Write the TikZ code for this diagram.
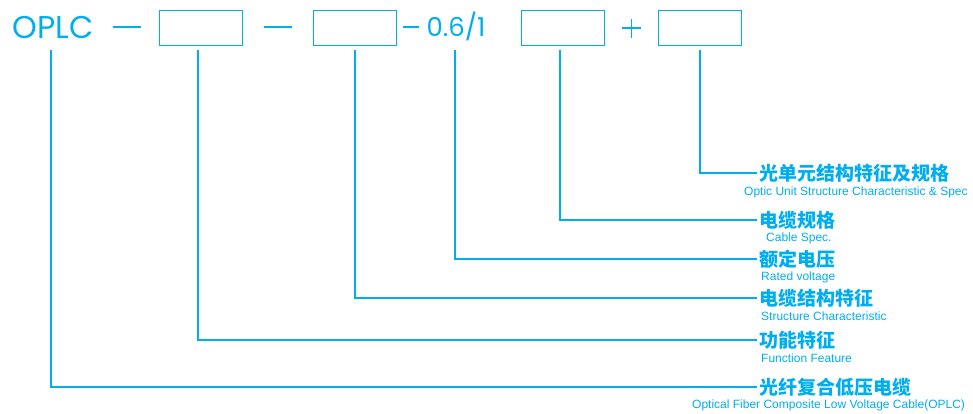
\documentclass[tikz,border=0pt]{standalone}
\usepackage{fontspec}
\newfontfamily\cjk{Noto Sans CJK SC}
\newfontfamily\geo{Poppins}
\newfontfamily\en{Liberation Sans}
\definecolor{cy}{RGB}{0,174,239}
\begin{document}
\begin{tikzpicture}[x=1pt,y=-1pt,
  ln/.style={draw=cy,line width=1.2pt},
  codebox/.style={draw=cy,line width=1.4pt,minimum width=83pt,minimum height=35pt,inner sep=0pt},
  big/.style={text=cy,inner sep=0pt,font=\geo\fontsize{31.5}{31.5}\selectfont},
  zh/.style={text=cy,anchor=west,inner xsep=2pt,inner ysep=0pt,font=\cjk\bfseries\fontsize{19}{19}\selectfont},
  enl/.style={text=cy,anchor=base west,inner sep=0pt,font=\en\fontsize{12}{12}\selectfont}]
\useasboundingbox (0,0) rectangle (973,413);
\coordinate (t) at (0,50);
% top row
\node[big,anchor=base] (oplc) at (53,38) {OPLC};
\draw[ln] (113,27) -- (141,27);
\node[codebox] (b1) at (201,28) {};
\draw[ln] (264,27) -- (292,27);
\node[codebox] (b2) at (355,28) {};
\draw[ln] (403,27) -- (419,27);
\node[big,anchor=base,font=\geo\fontsize{26}{26}\selectfont] (v) at (456,36) {0.6/1};
\node[codebox] (b3) at (563,28) {};
\draw[ln] (622,28) -- (641,28);
\draw[ln] (631.5,18.5) -- (631.5,37.5);
\node[codebox] (b4) at (700,28) {};
% labels
\node[zh] (l1) at (757,173) {光单元结构特征及规格};
\node[enl] (e1) at (744,195.5) {Optic Unit Structure Characteristic \& Spec};
\node[zh] (l2) at (757,220) {电缆规格};
\node[enl] (e2) at (766,241.3) {Cable Spec.};
\node[zh] (l3) at (757,259) {额定电压};
\node[enl] (e3) at (761,280.3) {Rated voltage};
\node[zh] (l4) at (757,298) {电缆结构特征};
\node[enl] (e4) at (761,320.3) {Structure Characteristic};
\node[zh] (l5) at (757,340) {功能特征};
\node[enl] (e5) at (761,362) {Function Feature};
\node[zh] (l6) at (757,387) {光纤复合低压电缆};
\node[enl] (e6) at (692,408.6) {Optical Fiber Composite Low Voltage Cable(OPLC)};
% connectors
\draw[ln] ([xshift=-2pt]oplc.south |- t) |- (l6.west);
\draw[ln] ([xshift=-3pt]b1.south |- t) |- (l5.west);
\draw[ln] (b2.south |- t) |- (l4.west);
\draw[ln] ([xshift=-1pt]v.south |- t) |- (l3.west);
\draw[ln] ([xshift=-3pt]b3.south |- t) |- (l2.west);
\draw[ln] (b4.south |- t) |- (l1.west);
\end{tikzpicture}
\end{document}
